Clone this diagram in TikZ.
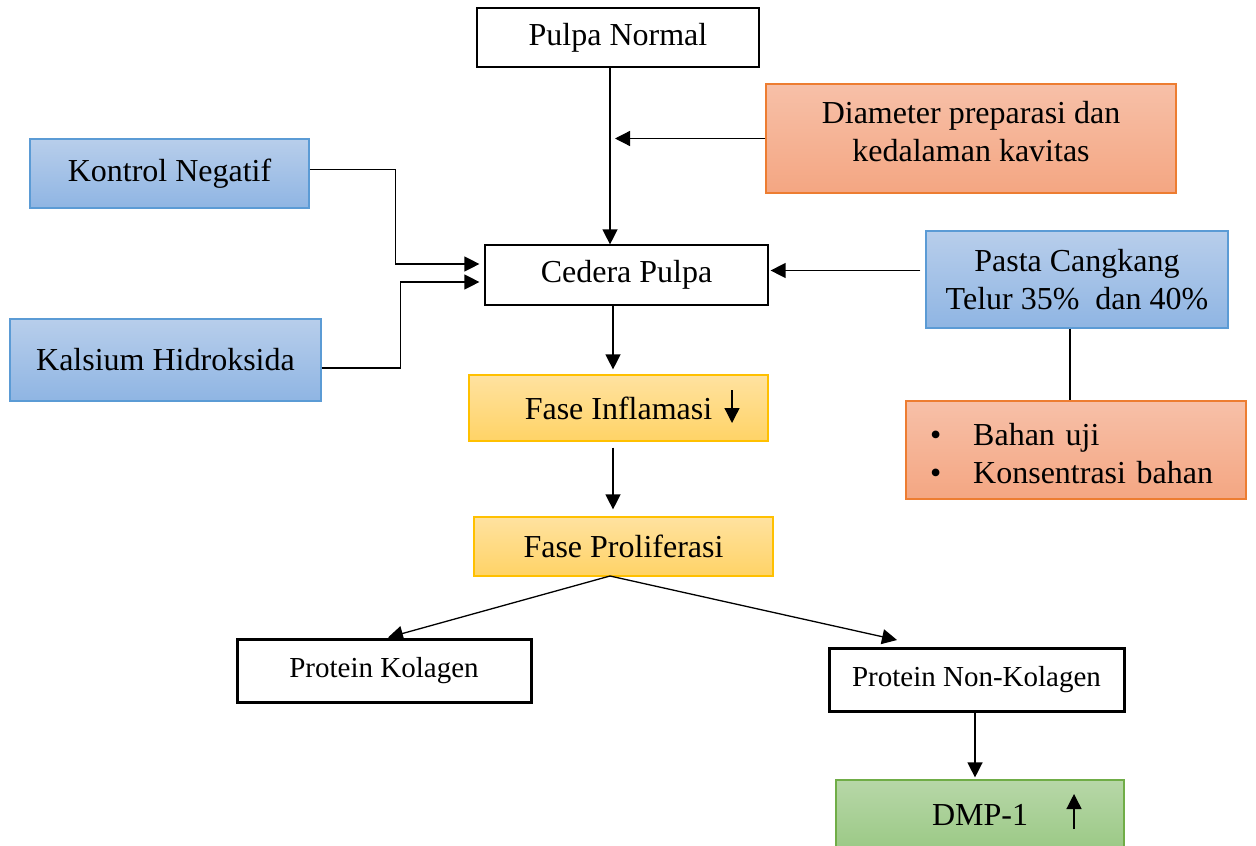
\documentclass[tikz,border=0pt]{standalone}
\usepackage{fontspec}
\setmainfont{Liberation Serif}
\usetikzlibrary{calc,arrows,arrows.meta,shapes}

\definecolor{bluetop}{RGB}{184,206,235}
\definecolor{bluebot}{RGB}{143,181,227}
\definecolor{blueline}{RGB}{91,155,213}
\definecolor{orangetop}{RGB}{247,192,168}
\definecolor{orangebot}{RGB}{244,166,130}
\definecolor{orangeline}{RGB}{237,125,49}
\definecolor{yellowtop}{RGB}{255,226,160}
\definecolor{yellowbot}{RGB}{255,211,102}
\definecolor{yellowline}{RGB}{255,192,0}
\definecolor{greentop}{RGB}{183,215,168}
\definecolor{greenbot}{RGB}{155,201,133}
\definecolor{greenline}{RGB}{112,173,71}

\begin{document}
\begin{tikzpicture}[
  x=0.5pt,
  y=-0.5pt,
]

  \tikzstyle{plainbox}=[draw,rectangle,line width=0.6pt,font=\fontsize{16}{19}\selectfont]
  \tikzstyle{boldbox}=[draw,rectangle,line width=1.5pt,font=\fontsize{14.5}{17}\selectfont]
  \tikzstyle{bluebox}=[draw=blueline,rectangle,line width=0.6pt,top color=bluetop,bottom color=bluebot,font=\fontsize{16}{19}\selectfont,align=center]
  \tikzstyle{orangebox}=[draw=orangeline,rectangle,line width=0.6pt,top color=orangetop,bottom color=orangebot,font=\fontsize{16}{19}\selectfont,align=center]
  \tikzstyle{yellowbox}=[draw=yellowline,rectangle,line width=0.6pt,top color=yellowtop,bottom color=yellowbot,font=\fontsize{16}{19}\selectfont]
  \tikzstyle{greenbox}=[draw=greenline,rectangle,line width=0.6pt,top color=greentop,bottom color=greenbot,font=\fontsize{16}{19}\selectfont]

  \tikzstyle{pointer}=[draw,line width=0.65pt,-{Triangle[length=7.5pt,width=7.5pt]}]
  \tikzstyle{link}=[draw,line width=0.65pt]

  \clip (0,0) rectangle (1256,845);

  % nodes
  \node[plainbox,minimum width=141pt,minimum height=29.5pt] (pulpa) at (618,37.5) {Pulpa Normal};
  \node[orangebox,minimum width=205pt,minimum height=54.5pt,text depth=7pt] (diam) at (971,138.5) {Diameter preparasi dan\\kedalaman kavitas};
  \node[bluebox,minimum width=139.5pt,minimum height=34.5pt] (kontrol) at (169.5,173.5) {Kontrol Negatif};
  \node[plainbox,minimum width=141.5pt,minimum height=30pt] (cedera) at (626.5,275) {Cedera Pulpa};
  \node[bluebox,minimum width=151pt,minimum height=48.5pt] (pasta) at (1077,279.5) {Pasta Cangkang\\Telur 35\%\ \ dan 40\%};
  \node[bluebox,minimum width=155.5pt,minimum height=41pt] (kalsium) at (165.5,360) {Kalsium Hidroksida};
  \node[yellowbox,minimum width=149.5pt,minimum height=33pt] (infl) at (618.5,408) {Fase Inflamasi};
  \node[orangebox,minimum height=49pt,inner xsep=12pt,text width=146pt,align=left,text height=15pt] (bahan) at (1076,450)
    {\textbullet\hspace{16pt}Bahan uji\\\textbullet\hspace{16pt}Konsentrasi bahan};
  \node[yellowbox,minimum width=149.5pt,minimum height=29.5pt] (prolif) at (623.5,546.5) {Fase Proliferasi};
  \node[boldbox,minimum width=147pt,minimum height=31.5pt] (kolagen) at (384,670.5) {Protein Kolagen};
  \node[boldbox,minimum width=147.5pt,minimum height=31.5pt] (nonkol) at (976.5,679.5) {Protein Non-Kolagen};
  \node[greenbox,minimum width=144pt,minimum height=35pt] (dmp) at (980,815) {DMP-1};

  % helper points
  \coordinate (mainaxis) at (610,0);
  \coordinate (joinpt) at (615,0);
  \coordinate (flowaxis) at (613,0);
  \coordinate (pastaaxis) at (1070,0);
  \coordinate (nonkolaxis) at (975,0);
  \coordinate (prolifout) at (610,576);
  \coordinate (nonkolin) at (897,640);
  \coordinate (infltop) at (732,390);
  \coordinate (inflbot) at (732,423);
  \coordinate (dmpbot) at (1074,829);
  \coordinate (dmptop) at (1074,794);

  % pointers
  \draw[pointer] (pulpa.south -| mainaxis) -- (cedera.north -| mainaxis);
  \draw[pointer] (diam.west) -- (diam.west -| joinpt);
  \draw[pointer] ([yshift=2pt]kontrol.east) -- ++(86,0) |- ([xshift=-2.5pt,yshift=5.5pt]cedera.west);
  \draw[pointer] ([yshift=-4pt]kalsium.east) -- ++(79,0) |- ([xshift=-2.5pt,yshift=-3.5pt]cedera.west);
  \draw[pointer,shorten <=2.5pt] ([yshift=4.5pt]pasta.west) -- ([xshift=1pt,yshift=4.5pt]pasta.west -| cedera.east);
  \draw[pointer,shorten >=2.5pt] (cedera.south -| flowaxis) -- (infl.north -| flowaxis);
  \draw[pointer,shorten <=3pt,shorten >=3.5pt] (infl.south -| flowaxis) -- (prolif.north -| flowaxis);
  \draw[link] (pasta.south -| pastaaxis) -- (bahan.north -| pastaaxis);
  \draw[pointer] (prolifout) -- ([xshift=2pt]kolagen.north);
  \draw[pointer] (prolifout) -- (nonkolin);
  \draw[pointer,shorten >=1pt] (nonkol.south -| nonkolaxis) -- (dmp.north -| nonkolaxis);

  % trend marks
  \draw[pointer] (infltop) -- (inflbot);
  \draw[pointer] (dmpbot) -- (dmptop);

\end{tikzpicture}
\end{document}
